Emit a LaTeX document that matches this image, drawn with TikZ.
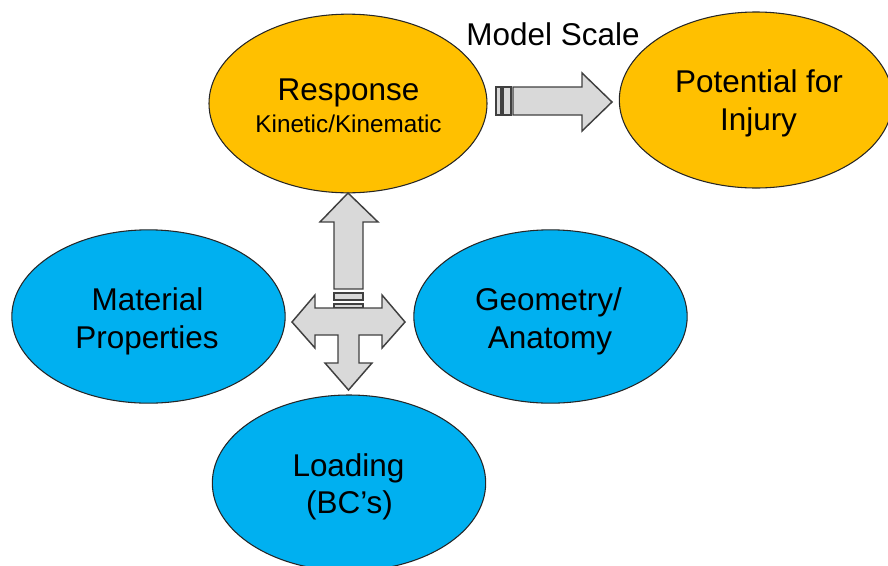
\documentclass[tikz,border=0pt]{standalone}
\usepackage{fontspec}
\setmainfont{Liberation Sans}
\definecolor{gold}{HTML}{FFC000}
\definecolor{sky}{HTML}{00B0F0}
\definecolor{arrowfill}{HTML}{D9D9D9}
\definecolor{arrowline}{HTML}{404040}
\tikzset{
  bubble/.style={ellipse, draw=black!85, line width=0.8pt, inner sep=0pt},
  lbl/.style={anchor=base, inner sep=0pt, font=\fontsize{23.6}{28}\selectfont},
  sublbl/.style={anchor=base, inner sep=0pt, font=\fontsize{18.2}{22}\selectfont},
  block/.style={fill=arrowfill, draw=arrowline, line width=1.1pt, line join=miter},
}
\usetikzlibrary{shapes.geometric}
\begin{document}
\begin{tikzpicture}[x=0.75pt, y=-0.75pt]
  \useasboundingbox (0,0) rectangle (888,565);
  \clip (0,0) rectangle (888,565);

  % bubbles
  \node[bubble, fill=gold, minimum width=208.5pt, minimum height=134pt] (resp) at (348,103.5) {};
  \node[bubble, fill=gold, minimum width=205pt, minimum height=132pt] (inj) at (756,100) {};
  \node[bubble, fill=sky, minimum width=205pt, minimum height=130pt] (mat) at (148.5,316.5) {};
  \node[bubble, fill=sky, minimum width=205pt, minimum height=130pt] (geo) at (550.5,316.5) {};
  \node[bubble, fill=sky, minimum width=205pt, minimum height=132pt] (load) at (349,483) {};

  % labels
  \node[lbl] (respA) at (348.5,100) {Response};
  \node[sublbl] (respB) at (348.5,132) {Kinetic/Kinematic};
  \node[lbl] (injA) at (759,92) {Potential for};
  \node[lbl] (injB) at (758.5,130) {Injury};
  \node[lbl] (matA) at (147.5,310) {Material};
  \node[lbl] (matB) at (147,348) {Properties};
  \node[lbl] (geoA) at (548.5,310) {Geometry/};
  \node[lbl] (geoB) at (550,348) {Anatomy};
  \node[lbl] (loadA) at (348.5,476) {Loading};
  \node[lbl] (loadB) at (349.5,513) {(BC’s)};
  \node[lbl] (scale) at (553,45) {Model Scale};

  % striped arrow towards the injury bubble
  \draw[block] (496,87) rectangle (501,115);
  \draw[block] (503,87) rectangle (511,115);
  \draw[block] (513,87) -- (582,87) -- (582,73) -- (612,102) -- (582,131)
    -- (582,115) -- (513,115) -- cycle;

  % upward arrow into the response bubble
  \draw[block] (348,193) -- (378,222) -- (363,222) -- (363,289) -- (334,289)
    -- (334,222) -- (320,222) -- cycle;
  \draw[block] (334,293) rectangle (363,300);
  \draw[block] (334,304) rectangle (363,308);

  % three-way arrow out to the inputs
  \draw[block] (292,322) -- (315,295) -- (315,308) -- (382,308) -- (382,295)
    -- (405,322) -- (382,348) -- (382,335) -- (359,335) -- (359,363)
    -- (372,363) -- (348.5,390) -- (325,363) -- (338,363) -- (338,335)
    -- (315,335) -- (315,348) -- cycle;
\end{tikzpicture}
\end{document}
